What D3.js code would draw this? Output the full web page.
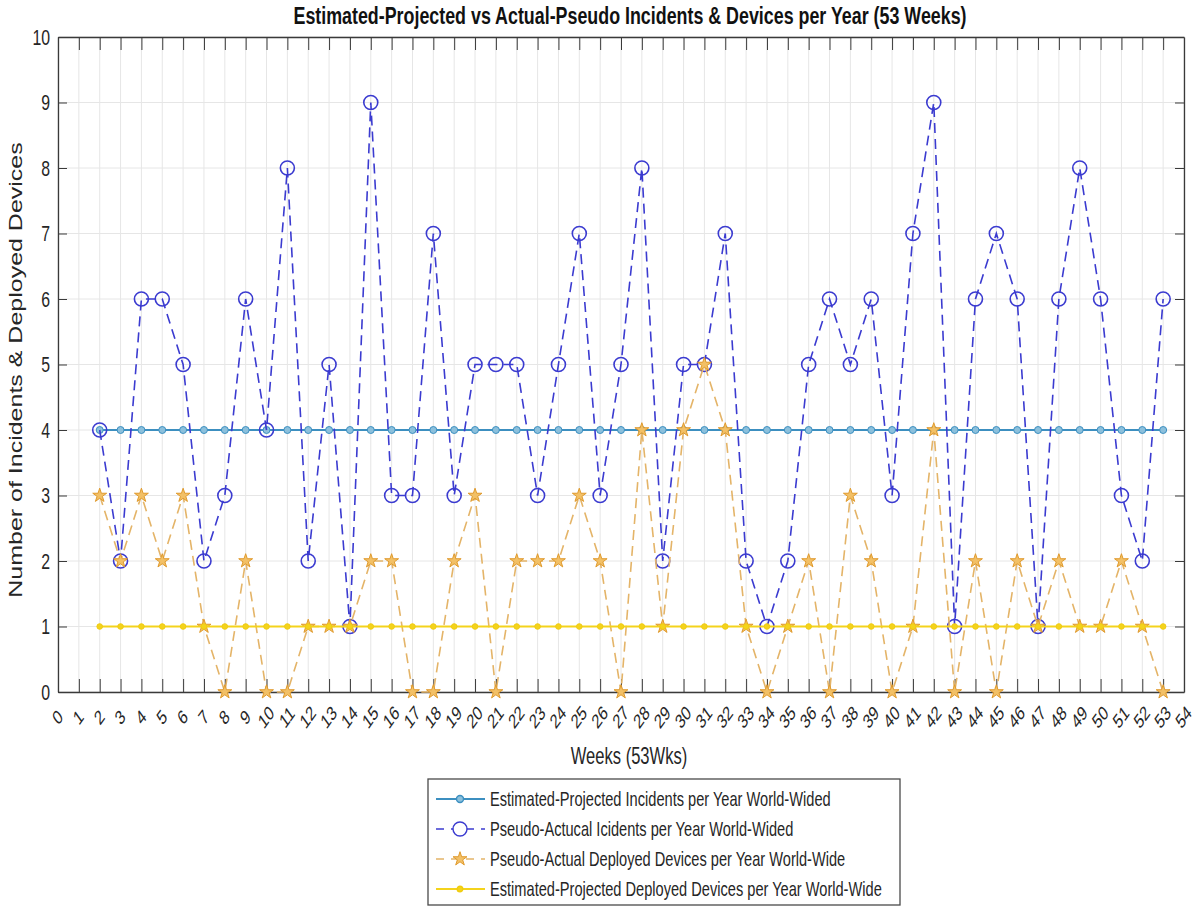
<!DOCTYPE html>
<html>
<head>
<meta charset="utf-8">
<script src="https://cdn.jsdelivr.net/npm/d3@7/dist/d3.min.js"></script>
<style>
  body { margin: 0; background: #fff; }
  text { font-family: "Liberation Sans", Arial, sans-serif; fill: #262626; }
</style>
</head>
<body>
<div id="container"></div>
<script>
"use strict";
// data, weeks 2..53
const weeks = [2,3,4,5,6,7,8,9,10,11,12,13,14,15,16,17,18,19,20,21,22,23,24,25,26,27,
    28,29,30,31,32,33,34,35,36,37,38,39,40,41,42,43,44,45,46,47,48,49,50,51,52,53];
const estIncidents = [4,4,4,4,4,4,4,4,4,4,4,4,4,4,4,4,4,4,4,4,4,4,4,4,4,4,
    4,4,4,4,4,4,4,4,4,4,4,4,4,4,4,4,4,4,4,4,4,4,4,4,4,4];
const pseudoIncidents = [4,2,6,6,5,2,3,6,4,8,2,5,1,9,3,3,7,3,5,5,5,3,5,7,3,5,
    8,2,5,5,7,2,1,2,5,6,5,6,3,7,9,1,6,7,6,1,6,8,6,3,2,6];
const pseudoDevices = [3,2,3,2,3,1,0,2,0,0,1,1,1,2,2,0,0,2,3,0,2,2,2,3,2,0,
    4,1,4,5,4,1,0,1,2,0,3,2,0,1,4,0,2,0,2,1,2,1,1,2,1,0];
const estDevices = [1,1,1,1,1,1,1,1,1,1,1,1,1,1,1,1,1,1,1,1,1,1,1,1,1,1,
    1,1,1,1,1,1,1,1,1,1,1,1,1,1,1,1,1,1,1,1,1,1,1,1,1,1];
const xTicks = d3.range(0, 55);
const yTicks = [0,1,2,3,4,5,6,7,8,9,10];
const legendLabels = [
    "Estimated-Projected Incidents per Year World-Wided",
    "Pseudo-Actucal Icidents per Year World-Wided",
    "Pseudo-Actual Deployed Devices per Year World-Wide",
    "Estimated-Projected Deployed Devices per Year World-Wide"
];

const W = 1202, H = 907;
const sx = 0.72;   // text in the picture is squeezed horizontally
const plotL = 58, plotR = 1184, plotT = 37, plotB = 692;

const svg = d3.select("#container").append("svg")
    .attr("width", W)
    .attr("height", H);

const x = d3.scaleLinear().domain([0, 54]).range([plotL, plotR]);
const y = d3.scaleLinear().domain([0, 10]).range([plotB, plotT]);

// grid
const grid = svg.append("g").attr("stroke", "#e6e6e6").attr("stroke-width", 1);
grid.selectAll(".vg").data(xTicks).enter().append("line")
    .attr("x1", d => x(d)).attr("x2", d => x(d))
    .attr("y1", plotT).attr("y2", plotB);
grid.selectAll(".hg").data(yTicks).enter().append("line")
    .attr("x1", plotL).attr("x2", plotR)
    .attr("y1", d => y(d)).attr("y2", d => y(d));

// axes, ticks pointing inward like matlab
const axisColor = "#3a3a3a";
const gx = svg.append("g")
    .attr("transform", `translate(0,${plotB})`)
    .call(d3.axisBottom(x).tickValues(xTicks).tickSizeInner(-13).tickSizeOuter(0).tickFormat(d3.format("d")));
const gxTop = svg.append("g")
    .attr("transform", `translate(0,${plotT})`)
    .call(d3.axisTop(x).tickValues(xTicks).tickSizeInner(-13).tickSizeOuter(0).tickFormat(""));
const gy = svg.append("g")
    .attr("transform", `translate(${plotL},0)`)
    .call(d3.axisLeft(y).tickValues(yTicks).tickSizeInner(-9).tickSizeOuter(0).tickPadding(8));
const gyR = svg.append("g")
    .attr("transform", `translate(${plotR},0)`)
    .call(d3.axisRight(y).tickValues(yTicks).tickSizeInner(-9).tickSizeOuter(0).tickFormat(""));

[gx, gxTop, gy, gyR].forEach(g => {
    g.select(".domain").attr("stroke", axisColor).attr("stroke-width", 1.3);
    g.selectAll(".tick line").attr("stroke", axisColor);
});
// first and last x tick sit on the box edges
gx.selectAll(".tick line").filter(d => d === 0 || d === 54).remove();
gxTop.selectAll(".tick line").filter(d => d === 0 || d === 54).remove();

gx.selectAll(".tick text")
    .attr("y", null).attr("dy", null)
    .attr("text-anchor", "middle")
    .attr("font-size", 20)
    .attr("transform", `translate(-1,25) scale(${sx},1) rotate(-45)`)
    .attr("dy", "0.35em");
gy.selectAll(".tick text")
    .attr("x", null)
    .attr("text-anchor", "end")
    .attr("font-size", 22)
    .attr("transform", `translate(-8,0) scale(${sx},1)`);
[gx, gy].forEach(g => g.selectAll(".tick text").attr("fill", "#262626"));

// title and axis labels
const label = (str, tx, ty, size, extra) => svg.append("text")
    .attr("transform", `translate(${tx},${ty}) scale(${sx},1)` + (extra || ""))
    .attr("text-anchor", "middle")
    .attr("font-size", size)
    .text(str);

label("Estimated-Projected vs Actual-Pseudo Incidents & Devices per Year (53 Weeks)", 630, 24, 24.8)
    .attr("font-weight", "bold").style("fill", "#111");
label("Weeks (53Wks)", 629, 764, 23);
label("Number of Incidents & Deployed Devices", 22, 370, 25, " rotate(-90)");

// series
const pts = vals => weeks.map((w, i) => [w, vals[i]]);
const line = d3.line().x(d => x(d[0])).y(d => y(d[1]));

const series = [
    {vals: estIncidents, color: "#3c8fc0", width: 2, dash: null, mark: "dot",
        mfill: "#8cc0dc", mstroke: "#3c8fc0", mr: 3.5},
    {vals: pseudoIncidents, color: "#3b3bd0", width: 1.6, dash: "10,6", mark: "circle",
        mfill: "none", mstroke: "#3b3bd0", mr: 7},
    {vals: pseudoDevices, color: "#e4b468", width: 1.6, dash: "10,6", mark: "star",
        mfill: "#f2c066", mstroke: "#e09a2c", mr: 0},
    {vals: estDevices, color: "#f4d31c", width: 2, dash: null, mark: "dot",
        mfill: "#f4d31c", mstroke: "#f0cc10", mr: 2.8}
];

const star = d3.symbol().type(d3.symbolStar).size(60);

series.forEach(s => {
    const g = svg.append("g");
    g.append("path")
        .datum(pts(s.vals))
        .attr("fill", "none")
        .attr("stroke", s.color)
        .attr("stroke-width", s.width)
        .attr("stroke-dasharray", s.dash)
        .attr("d", line);
    if (s.mark === "star") {
        g.selectAll("path.m").data(pts(s.vals)).enter().append("path")
            .attr("class", "m")
            .attr("transform", d => `translate(${x(d[0])},${y(d[1])})`)
            .attr("d", star)
            .attr("fill", s.mfill)
            .attr("stroke", s.mstroke)
            .attr("stroke-width", 1);
    } else {
        g.selectAll("circle").data(pts(s.vals)).enter().append("circle")
            .attr("cx", d => x(d[0]))
            .attr("cy", d => y(d[1]))
            .attr("r", s.mr)
            .attr("fill", s.mfill)
            .attr("stroke", s.mstroke)
            .attr("stroke-width", s.mark === "circle" ? 1.6 : 1);
    }
});

// legend
const lg = svg.append("g").attr("transform", "translate(428,779)");
lg.append("rect")
    .attr("width", 472).attr("height", 126)
    .attr("fill", "#fff")
    .attr("stroke", "#4a4a4a")
    .attr("stroke-width", 1.3);

const rows = lg.selectAll(".row").data(series).enter().append("g")
    .attr("class", "row")
    .attr("transform", (d, i) => `translate(0,${20 + i * 30})`);
rows.append("line")
    .attr("x1", 8).attr("x2", 57)
    .attr("stroke", d => d.color)
    .attr("stroke-width", d => d.width)
    .attr("stroke-dasharray", d => d.dash ? "8,7" : null);
rows.each(function(d) {
    const r = d3.select(this);
    if (d.mark === "star") {
        r.append("path").attr("transform", "translate(32,0)").attr("d", star)
            .attr("fill", d.mfill).attr("stroke", d.mstroke);
    } else {
        r.append("circle").attr("cx", 32).attr("r", d.mr)
            .attr("fill", d.mark === "circle" ? "#fff" : d.mfill)
            .attr("stroke", d.mstroke).attr("stroke-width", 1.4);
    }
});
rows.append("text")
    .attr("transform", `translate(62,0) scale(${sx},1)`)
    .attr("dy", "0.35em")
    .attr("font-size", 20.3)
    .text((d, i) => legendLabels[i]);
</script>
</body>
</html>
